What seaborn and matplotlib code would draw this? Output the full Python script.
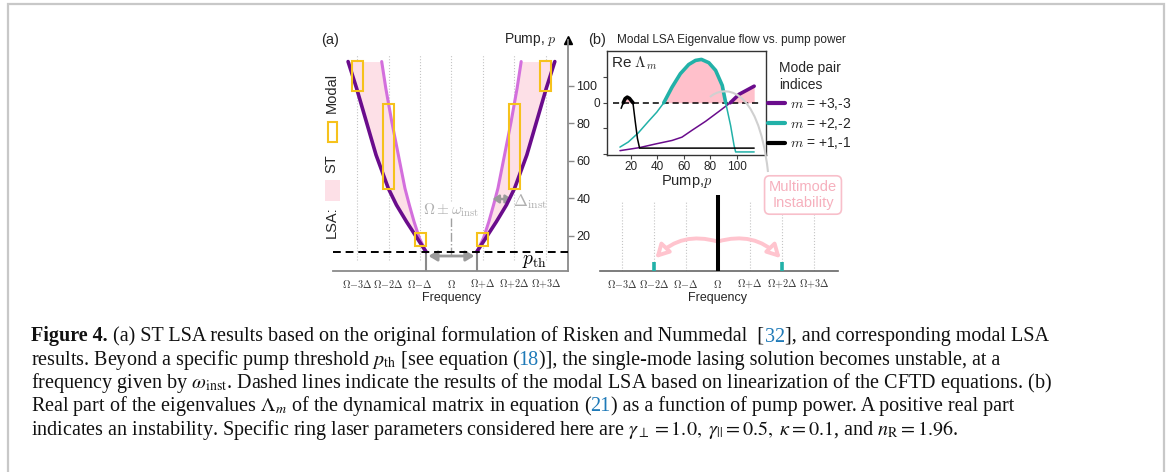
import numpy as np
import matplotlib
matplotlib.use("Agg")
import matplotlib.pyplot as plt
import seaborn as sns
from matplotlib.patches import Rectangle, FancyArrowPatch, PathPatch
from matplotlib.path import Path
from matplotlib.lines import Line2D

# ---------------- data ----------------
# (a) single-mode instability boundaries (|detuning| in units of Delta vs pump)
pump_a = [11.6, 18.8, 27.6, 36.5, 45.4, 63.2, 81.0, 98.8, 113.0]
st_outer = [0.81, 1.09, 1.43, 1.75, 2.01, 2.40, 2.71, 3.02, 3.29]
st_inner = [0.81, 1.02, 1.19, 1.34, 1.48, 1.69, 1.90, 2.09, 2.22]
p_threshold = 11.6

# modal LSA unstable pump windows for mode pairs m = 1, 2, 3
modal_m = [1, 2, 3]
modal_lo = [14.8, 44.8, 97.5]
modal_hi = [21.6, 90.3, 113.2]

freq_ticks = [-3, -2, -1, 0, 1, 2, 3]
freq_labels = [r"$\Omega{-}3\Delta$", r"$\Omega{-}2\Delta$", r"$\Omega{-}\Delta$", r"$\Omega$",
               r"$\Omega{+}\Delta$", r"$\Omega{+}2\Delta$", r"$\Omega{+}3\Delta$"]
pump_ticks = [20, 40, 60, 80, 100]

# (b) real part of modal eigenvalues vs pump
pump_m1 = [12.6, 14.2, 15.6, 17.2, 18.9, 20.4, 21.5, 23.2, 24.9, 26.5, 113.0]
re_m1 = [-0.22, 0.0, 0.16, 0.22, 0.17, 0.07, 0.0, -0.72, -1.40, -1.78, -1.78]
pump_m2 = [11.7, 18.0, 25.6, 33.2, 39.5, 44.8, 51.0, 57.3, 63.6, 68.7, 73.2, 78.8,
           83.9, 88.9, 91.5, 95.2, 97.8, 99.0, 113.0]
re_m2 = [-1.74, -1.54, -1.18, -0.73, -0.37, 0.0, 0.61, 1.14, 1.50, 1.66, 1.70, 1.57,
         1.27, 0.68, 0.0, -0.89, -1.67, -1.93, -1.93]
pump_m3 = [11.7, 26.5, 38.3, 51.0, 58.5, 66.1, 76.3, 86.4, 95.0, 101.6, 113.0]
re_m3 = [-1.88, -1.76, -1.62, -1.48, -1.35, -1.08, -0.73, -0.34, 0.0, 0.33, 0.65]
mode_labels = [r"$m$ = +3,-3", r"$m$ = +2,-2", r"$m$ = +1,-1"]
inset_pump_ticks = [20, 40, 60, 80, 100]

# (b) emission spectrum at the multimode instability
spec_modes = [-2, 0, 2]
spec_amp = [0.12, 1.0, 0.12]

# ---------------- style ----------------
sns.set_theme(style="white")
plt.rcParams["font.family"] = ["Liberation Sans", "DejaVu Sans"]
plt.rcParams["mathtext.fontset"] = "cm"

DARK = "#6a0c8c"
ORCHID = "#d36fdd"
FILL_A = "#fde0e7"
GOLD = "#f6c21c"
TEAL = "#22b1a8"
PINK = "#ffc0cb"
GRID = "#c4c4c4"
AXGRAY = "#8a8a8a"

W, H = 1167, 472
fig = plt.figure(figsize=(W / 100, H / 100), dpi=100)
fig.patch.set_facecolor("white")


def axes_px(l, t, r, b):
    return fig.add_axes([l / W, 1 - b / H, (r - l) / W, (b - t) / H])


def fig_text(x, y, s, **kw):
    return fig.text(x / W, 1 - y / H, s, **kw)


# ---------------- panel (a) ----------------
ax_a = axes_px(333, 40, 568, 271)
ax_a.set_facecolor("none")
outer = np.array(st_outer)
inner = np.array(st_inner)
for sgn in (-1, 1):
    ax_a.fill_betweenx(pump_a, sgn * inner, sgn * outer, color=FILL_A, lw=0, zorder=1)
    sns.lineplot(x=sgn * outer, y=pump_a, sort=False, estimator=None, color=DARK,
                 lw=2.6, ax=ax_a, zorder=4)
    sns.lineplot(x=sgn * inner, y=pump_a, sort=False, estimator=None, color=ORCHID,
                 lw=2.2, ax=ax_a, zorder=3)
    for m, lo, hi in zip(modal_m, modal_lo, modal_hi):
        ax_a.add_patch(Rectangle((sgn * m - 0.175, lo), 0.35, hi - lo, fill=False,
                                 ec=GOLD, lw=1.5, zorder=5))

# frequency grid
side = [f for f in freq_ticks if f != 0]
ax_a.vlines(side, 7.2, 117, colors=GRID, lw=0.8, linestyles=":", zorder=0)
ax_a.vlines([0], 38.5, 117, colors=GRID, lw=0.8, linestyles=":", zorder=0)
ax_a.vlines([0], 9.3, 29.4, colors="#a0a0a0", lw=1.0, linestyles="-.", zorder=2)

# threshold and instability offset
ax_a.axhline(p_threshold, color="black", lw=1.4, ls=(0, (4, 2.5)), zorder=6)
ax_a.vlines([-st_outer[0], st_outer[0]], 1.3, p_threshold, colors=AXGRAY, lw=1.5, zorder=2)
ax_a.annotate("", xy=(-0.73, 9.3), xytext=(0.73, 9.3),
              arrowprops=dict(arrowstyle="<|-|>,head_length=0.5,head_width=0.3",
                              color="#9a9a9a", lw=2, mutation_scale=10,
                              shrinkA=0, shrinkB=0))
ax_a.annotate("", xy=(1.31, 39.7), xytext=(1.92, 39.7),
              arrowprops=dict(arrowstyle="<|-|>,head_length=0.45,head_width=0.3",
                              color="#9a9a9a", lw=1.8, mutation_scale=8,
                              shrinkA=0, shrinkB=0))
ax_a.text(0.0, 33.5, r"$\Omega\pm\omega_{\rm inst}$", ha="center", va="center",
          fontsize=11, color="#b0b0b0")
ax_a.text(1.97, 38.3, r"$\Delta_{\rm inst}$", ha="left", va="center", fontsize=12,
          color="#b0b0b0")
ax_a.text(2.64, 6.6, r"$p_{\rm th}$", ha="center", va="center", fontsize=14, color="black")

ax_a.set_xlim(-3.77, 3.71)
ax_a.set_ylim(1.3, 124.5)
ax_a.set_xticks(freq_ticks)
ax_a.set_xticklabels(freq_labels)
ax_a.yaxis.tick_right()
ax_a.set_yticks(pump_ticks)
ax_a.tick_params(axis="x", bottom=True, length=0, pad=5, labelsize=7.3, labelcolor="#333333")
ax_a.tick_params(axis="y", right=True, left=False, length=4, width=1, color=AXGRAY,
                 pad=2, labelsize=9, labelcolor="#222222")
for s in ("left", "top"):
    ax_a.spines[s].set_visible(False)
for s in ("right", "bottom"):
    ax_a.spines[s].set_color(AXGRAY)
    ax_a.spines[s].set_linewidth(1.3)
ax_a.plot([1], [1], marker="^", color="black", ms=6, transform=ax_a.transAxes, clip_on=False)
ax_a.set_xlabel("")
ax_a.set_ylabel("")

fig_text(556.7, 40, r"Pump, $p$", ha="right", va="center", fontsize=10)
fig_text(330, 40, "(a)", ha="center", va="center", fontsize=10.5)
fig_text(451.5, 298, "Frequency", ha="center", va="center", fontsize=9)

# rotated key for panel (a)
fig_text(331.7, 222, "LSA:", rotation=90, ha="center", va="center", fontsize=10.5)
fig.add_artist(Rectangle((325 / W, 1 - 201 / H), 15 / W, 21 / H, transform=fig.transFigure,
                         fc=FILL_A, ec="none"))
fig_text(331.7, 164, "ST", rotation=90, ha="center", va="center", fontsize=10.5)
fig.add_artist(Rectangle((327.7 / W, 1 - 141.7 / H), 9 / W, 20 / H, transform=fig.transFigure,
                         fill=False, ec=GOLD, lw=1.5))
fig_text(331.7, 93, "Modal", rotation=90, ha="center", va="center", fontsize=10.5)

# ---------------- panel (b): eigenvalue flow ----------------
fig_text(597, 40, "(b)", ha="center", va="center", fontsize=10.5)
fig_text(616.7, 40, "Modal LSA Eigenvalue flow vs. pump power", ha="left", va="center",
         fontsize=8.5)

ax_in = axes_px(606.7, 51, 765.7, 155)
curves = [(pump_m3, re_m3, DARK), (pump_m2, re_m2, TEAL), (pump_m1, re_m1, "black")]
for p, v, c in curves:
    p = np.array(p)
    v = np.array(v)
    ax_in.fill_between(p, 0, v, where=v >= 0, color=PINK, lw=0, zorder=1)
for p, v, c in curves:
    p = np.array(p)
    v = np.array(v)
    sns.lineplot(x=p, y=v, sort=False, estimator=None, color=c, lw=1.1, ax=ax_in, zorder=3)
    pos = v >= 0
    sns.lineplot(x=p[pos], y=v[pos], sort=False, estimator=None, color=c, lw=2.6,
                 ax=ax_in, zorder=4)
ax_in.hlines(0, 6.6, 117.3, colors="black", lw=1.1, linestyles=(0, (4, 2.5)), zorder=2)
ax_in.set_xlim(1.7, 121.7)
ax_in.set_ylim(-2.05, 2.03)
ax_in.set_xticks(inset_pump_ticks)
ax_in.set_yticks([-2, -1, 0, 1])
ax_in.set_yticklabels(["", "", "0", ""])
ax_in.tick_params(axis="x", bottom=True, length=3, width=0.8, pad=1.5, labelsize=8.5,
                  color="#444444")
ax_in.tick_params(axis="y", left=True, length=3, width=0.8, pad=1.5, labelsize=8.5,
                  color="#444444")
for s in ax_in.spines.values():
    s.set_color("#333333")
    s.set_linewidth(1.0)
ax_in.set_xlabel("")
ax_in.set_ylabel("")
ax_in.text(0.03, 0.88, r"Re $\Lambda_m$", transform=ax_in.transAxes, ha="left",
           va="center", fontsize=11)
fig_text(686.7, 181, r"Pump,$p$", ha="center", va="center", fontsize=10.5)

handles = [Line2D([], [], color=c, lw=3) for _, _, c in curves]
leg = ax_in.legend(handles, mode_labels, loc="upper left",
                   bbox_to_anchor=(768 / W, 1 - 61 / H), bbox_transform=fig.transFigure,
                   frameon=False, title="Mode pair\nindices", fontsize=10, title_fontsize=10,
                   handlelength=1.2, handletextpad=0.4, labelspacing=0.27, borderpad=0,
                   borderaxespad=0)
leg.get_title().set_linespacing(1.25)
leg._legend_box.sep = 3

# connector from the eigenvalue crossing to the spectrum annotation
arc = Path([(710 / W, 1 - 97 / H), (722 / W, 1 - 86 / H), (758 / W, 1 - 82 / H),
            (768 / W, 1 - 172 / H)],
           [Path.MOVETO, Path.CURVE4, Path.CURVE4, Path.CURVE4])
fig.add_artist(PathPatch(arc, transform=fig.transFigure, fill=False, ec="#d0d0d0", lw=1.5,
                         zorder=5))
fig_text(803, 195, "Multimode\nInstability", ha="center", va="center", fontsize=10.5,
         color="#f6b0bd", linespacing=1.15, zorder=6,
         bbox=dict(boxstyle="round,pad=0.3,rounding_size=0.35", fc="white", ec="#f8bfca",
                   lw=1.2))

# ---------------- panel (b): spectrum ----------------
ax_s = axes_px(600, 190, 838.3, 270.7)
ax_s.set_facecolor("none")
ax_s.vlines([f for f in freq_ticks if f != 0], 0, 0.91, colors=GRID, lw=0.8,
            linestyles=":", zorder=0)
ax_s.vlines(spec_modes, 0, spec_amp, colors=[TEAL, "black", TEAL], lw=[2.6, 2.9, 2.6],
            zorder=3)
for tip, rad in ((-1.95, 0.3), (1.97, -0.3)):
    ax_s.add_patch(FancyArrowPatch((0.0, 0.385), (tip, 0.165),
                                   connectionstyle=f"arc3,rad={rad}",
                                   arrowstyle="-|>,head_length=0.55,head_width=0.3",
                                   mutation_scale=14, lw=2.8, ec="#ffc4ce", fc="white",
                                   shrinkA=0, shrinkB=0, zorder=2))
ax_s.set_xlim(-3.68, 3.77)
ax_s.set_ylim(0, 1.066)
ax_s.set_xticks(freq_ticks)
ax_s.set_xticklabels(freq_labels)
ax_s.set_yticks([])
ax_s.tick_params(axis="x", bottom=True, length=0, pad=5, labelsize=7.3, labelcolor="#333333")
for s in ("left", "top", "right"):
    ax_s.spines[s].set_visible(False)
ax_s.spines["bottom"].set_color("#666666")
ax_s.spines["bottom"].set_linewidth(1.2)
fig_text(717.7, 298, "Frequency", ha="center", va="center", fontsize=9)

# ---------------- caption ----------------
renderer = fig.canvas.get_renderer()
BLUE = "#1f7ab8"
serif = ["Liberation Serif", "DejaVu Serif"]

caption = [
    [("Figure 4.", "b"), (" ", "sp"),
     ("(a) ST LSA results based on the original formulation of Risken and Nummedal  [", "n"),
     ("32", "c"), ("], and corresponding modal LSA", "n")],
    [(r"results. Beyond a specific pump threshold $p_{\rm th}$ [see equation (", "n"),
     ("18", "c"), (")], the single-mode lasing solution becomes unstable, at a", "n")],
    [(r"frequency given by $\omega_{\rm inst}$. Dashed lines indicate the results of the "
      r"modal LSA based on linearization of the CFTD equations. (b)", "n")],
    [(r"Real part of the eigenvalues $\Lambda_m$ of the dynamical matrix in equation (", "n"),
     ("21", "c"), (") as a function of pump power. A positive real part", "n")],
    [(r"indicates an instability. Specific ring laser parameters considered here are "
      r"$\gamma_\perp = 1.0,\; \gamma_{||} = 0.5,\; \kappa = 0.1$, and "
      r"$n_{\rm R} = 1.96$.", "n")],
]


def cap_kw(kind, size):
    kw = dict(family=serif, fontsize=size, math_fontfamily="stix", va="baseline",
              ha="left", color="#111111")
    if kind == "b":
        kw["fontweight"] = "bold"
    if kind == "c":
        kw["color"] = BLUE
    return kw


def measure(s, kind, size):
    t = fig.text(0, 0, s, **cap_kw(kind, size))
    w = t.get_window_extent(renderer).width
    t.remove()
    return w


def piece_width(s, kind, size):
    if kind == "sp":
        return measure("a a", "n", size) - measure("aa", "n", size)
    w = measure(s, kind, size)
    return w - 2 if "$" in s else w + 0.6


def layout(line, size):
    xs, x = [], 0.0
    for s, kind in line:
        xs.append(x)
        x += piece_width(s, kind, size)
    return xs, x


base = 13.0
_, w1 = layout(caption[0], base)
cap_size = base * (1045 - 30.7) / w1

for i, line in enumerate(caption):
    xs, _ = layout(line, cap_size)
    yb = 341.5 + 23.33 * i
    for (s, kind), dx in zip(line, xs):
        if kind == "sp":
            continue
        fig_text(30.7 + dx, yb, s, **cap_kw(kind, cap_size))

# page frame
fig.add_artist(Rectangle((7.5 / W, -0.1), (1163.5 - 7.5) / W, 1.1 - 3.5 / H,
                         transform=fig.transFigure, fill=False, ec="#c8c8c8", lw=1.6))

fig.savefig("out.png", dpi=100, facecolor="white")
